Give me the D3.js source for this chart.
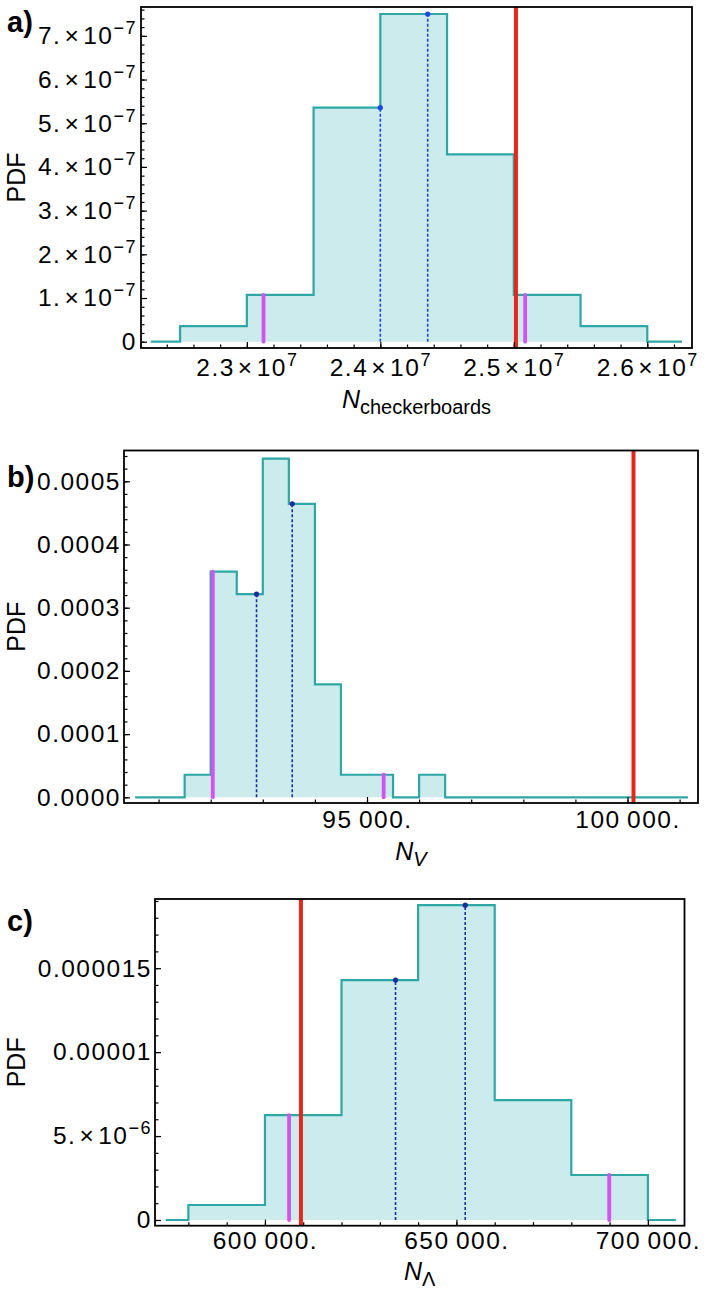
<!DOCTYPE html>
<html>
<head>
<meta charset="utf-8">
<script src="https://cdn.jsdelivr.net/npm/d3@7"></script>
<style>
body { margin: 0; background: #fff; }
svg text { font-family: "Liberation Sans", Arial, sans-serif; fill: #000; }
.tick text { font-size: 24.5px; letter-spacing: 1.5px; }
</style>
</head>
<body>
<div id="vis"></div>
<script>
// ---- panel a : N_checkerboards ----
var aEdges = [2.25e7, 2.30e7, 2.35e7, 2.40e7, 2.45e7, 2.50e7, 2.55e7, 2.60e7];
var aPdf = [0.357e-7, 1.071e-7, 5.357e-7, 7.5e-7, 4.286e-7, 1.071e-7, 0.357e-7];
var aSpan = [2.228e7, 2.626e7];
var aActual = 2.5016e7;
var aBand = [[2.3125e7, 1.071e-7], [2.5085e7, 1.071e-7]];
var aMid = [[2.40e7, 5.357e-7], [2.4355e7, 7.5e-7]];
var aXTicks = [2.3e7, 2.4e7, 2.5e7, 2.6e7];
var aXLabels = ["2.3×10^7", "2.4×10^7", "2.5×10^7", "2.6×10^7"];
var aYTicks = [0, 1e-7, 2e-7, 3e-7, 4e-7, 5e-7, 6e-7, 7e-7];
var aYLabels = ["0", "1.×10^−7", "2.×10^−7", "3.×10^−7", "4.×10^−7", "5.×10^−7", "6.×10^−7", "7.×10^−7"];

// ---- panel b : N_V ----
var bEdges = [91500, 92000, 92500, 93000, 93500, 94000, 94500, 95000, 95500, 96000, 96500];
var bPdf = [0.357e-4, 3.571e-4, 3.214e-4, 5.357e-4, 4.643e-4, 1.786e-4, 0.357e-4, 0.357e-4, 0, 0.357e-4];
var bSpan = [90550, 101160];
var bActual = 100115;
var bBand = [[92040, 3.571e-4], [95320, 0.357e-4]];
var bMid = [[92880, 3.214e-4], [93565, 4.643e-4]];
var bXTicks = [95000, 100000];
var bXLabels = ["95\u2009000.", "100\u2009000."];
var bYTicks = [0, 1e-4, 2e-4, 3e-4, 4e-4, 5e-4];
var bYLabels = ["0.0000", "0.0001", "0.0002", "0.0003", "0.0004", "0.0005"];

// ---- panel c : N_Lambda ----
var cEdges = [580000, 600000, 620000, 640000, 660000, 680000, 700000];
var cPdf = [0.893e-6, 6.25e-6, 14.29e-6, 18.75e-6, 7.143e-6, 2.679e-6];
var cSpan = [574100, 707300];
var cActual = 609400;
var cBand = [[606300, 6.25e-6], [689900, 2.679e-6]];
var cMid = [[634100, 14.29e-6], [652300, 18.75e-6]];
var cXTicks = [600000, 650000, 700000];
var cXLabels = ["600\u2009000.", "650\u2009000.", "700\u2009000."];
var cYTicks = [0, 5e-6, 1e-5, 1.5e-5];
var cYLabels = ["0", "5.×10^−6", "0.00001", "0.000015"];

var svg = d3.select("#vis").append("svg")
  .attr("width", 705)
  .attr("height", 1291);

var panels = [
  {tag: "a)", tagY: 32, box: [141, 692, 7, 348], xDom: [2.2207e7, 2.6335e7], yDom: [-0.144e-7, 7.66e-7],
   edges: aEdges, pdf: aPdf, span: aSpan, actual: aActual, band: aBand, mid: aMid, midColor: "#1f46e4",
   xTicks: aXTicks, xLabels: aXLabels, xMinor: d3.range(2.22e7, 2.634e7, 2e5),
   yTicks: aYTicks, yLabels: aYLabels, yMinor: d3.range(0, 7.7e-7, 0.2e-7),
   xPad: 11, yPad: 4, sub: "checkerboards", subItalic: false, nBase: 408},
  {tag: "b)", tagY: 487, box: [124, 698, 450.5, 803], xDom: [90336, 101353], yDom: [-0.09e-4, 5.487e-4],
   edges: bEdges, pdf: bPdf, span: bSpan, actual: bActual, band: bBand, mid: bMid, midColor: "#1a2f9c",
   xTicks: bXTicks, xLabels: bXLabels, xMinor: d3.range(91000, 101001, 1000),
   yTicks: bYTicks, yLabels: bYLabels, yMinor: d3.range(0, 5.5e-4, 0.2e-4),
   xPad: 8, yPad: 3, sub: "V", subItalic: true, nBase: 860},
  {tag: "c)", tagY: 931, box: [155, 684.5, 899, 1225.7], xDom: [571290, 709560], yDom: [-0.34e-6, 19.12e-6],
   edges: cEdges, pdf: cPdf, span: cSpan, actual: cActual, band: cBand, mid: cMid, midColor: "#1a2f9c",
   xTicks: cXTicks, xLabels: cXLabels, xMinor: d3.range(580000, 700001, 10000),
   yTicks: cYTicks, yLabels: cYLabels, yMinor: d3.range(0, 19.1e-6, 1e-6),
   xPad: 6, yPad: 3, sub: "\u039B", subItalic: false, nBase: 1280}
];

// turn "m×10^e" into tspans with a raised exponent
function sciText(sel) {
  sel.each(function() {
    var t = d3.select(this), s = t.text();
    if (s.indexOf("^") < 0) return;
    var parts = s.split("^"), base = parts[0].split("×");
    t.text(null);
    t.append("tspan").text(base[0]);
    t.append("tspan").attr("dx", 3).text("×");
    t.append("tspan").attr("dx", 3).text(base[1]);
    t.append("tspan").attr("dx", 0).attr("dy", -10).style("font-size", "18px").text(parts[1]);
  });
}

panels.forEach(function(p, k) {
  var x = d3.scaleLinear().domain(p.xDom).range([p.box[0], p.box[1]]);
  var y = d3.scaleLinear().domain(p.yDom).range([p.box[3], p.box[2]]);

  var g = svg.append("g");
  var clipId = "clip" + k;
  g.append("clipPath").attr("id", clipId).append("rect")
    .attr("x", p.box[0]).attr("y", p.box[2])
    .attr("width", p.box[1] - p.box[0]).attr("height", p.box[3] - p.box[2]);

  var plot = g.append("g").attr("clip-path", "url(#" + clipId + ")");

  var pts = [[p.span[0], 0]];
  p.pdf.forEach(function(v, i) { pts.push([p.edges[i], v]); });
  pts.push([p.edges[p.edges.length - 1], 0]);
  pts.push([p.span[1], 0]);

  plot.append("path")
    .datum(pts)
    .attr("fill", "#cbebec")
    .attr("d", d3.area().curve(d3.curveStepAfter)
      .x(function(d) { return x(d[0]); })
      .y0(y(0))
      .y1(function(d) { return y(d[1]); }));

  plot.append("path")
    .datum(pts)
    .attr("fill", "none")
    .attr("stroke", "#2ea7a5")
    .attr("stroke-width", 2.2)
    .attr("d", d3.line().curve(d3.curveStepAfter)
      .x(function(d) { return x(d[0]); })
      .y(function(d) { return y(d[1]); }));

  // median / mean markers
  plot.selectAll(".mid").data(p.mid).enter().append("line")
    .attr("x1", function(d) { return x(d[0]); })
    .attr("x2", function(d) { return x(d[0]); })
    .attr("y1", y(0))
    .attr("y2", function(d) { return y(d[1]); })
    .attr("stroke", p.midColor)
    .attr("stroke-width", 1.6)
    .attr("stroke-dasharray", "3,2");
  plot.selectAll(".dot").data(p.mid).enter().append("circle")
    .attr("cx", function(d) { return x(d[0]); })
    .attr("cy", function(d) { return y(d[1]); })
    .attr("r", 2.6)
    .attr("fill", p.midColor);

  // 95% band edges
  plot.selectAll(".band").data(p.band).enter().append("line")
    .attr("x1", function(d) { return x(d[0]); })
    .attr("x2", function(d) { return x(d[0]); })
    .attr("y1", y(0))
    .attr("y2", function(d) { return y(d[1]); })
    .attr("stroke", "#d452f2")
    .attr("stroke-width", 3.8)
    .attr("stroke-linecap", "round");

  // actual value
  plot.append("line")
    .attr("x1", x(p.actual)).attr("x2", x(p.actual))
    .attr("y1", p.box[2]).attr("y2", p.box[3])
    .attr("stroke", "#e5281b")
    .attr("stroke-width", 4);

  // axes, ticks pointing inward
  g.append("g")
    .attr("transform", "translate(0," + p.box[3] + ")")
    .call(d3.axisBottom(x).tickValues(p.xMinor).tickFormat("").tickSizeInner(-3.5).tickSizeOuter(0))
    .call(function(s) { s.select(".domain").remove(); });
  g.append("g")
    .attr("transform", "translate(" + p.box[0] + ",0)")
    .call(d3.axisLeft(y).tickValues(p.yMinor).tickFormat("").tickSizeInner(-3.5).tickSizeOuter(0))
    .call(function(s) { s.select(".domain").remove(); });

  g.append("g")
    .attr("transform", "translate(0," + p.box[3] + ")")
    .call(d3.axisBottom(x).tickValues(p.xTicks)
      .tickFormat(function(d, i) { return p.xLabels[i]; })
      .tickSizeInner(-6).tickSizeOuter(0).tickPadding(p.xPad))
    .call(function(s) { s.select(".domain").remove(); })
    .selectAll("text").call(sciText);

  g.append("g")
    .attr("transform", "translate(" + p.box[0] + ",0)")
    .call(d3.axisLeft(y).tickValues(p.yTicks)
      .tickFormat(function(d, i) { return p.yLabels[i]; })
      .tickSizeInner(-6).tickSizeOuter(0).tickPadding(p.yPad))
    .call(function(s) { s.select(".domain").remove(); })
    .selectAll("text").call(sciText);

  g.selectAll(".tick line").attr("stroke", "#000").attr("stroke-width", 1.2);

  // frame
  g.append("rect")
    .attr("x", p.box[0]).attr("y", p.box[2])
    .attr("width", p.box[1] - p.box[0]).attr("height", p.box[3] - p.box[2])
    .attr("fill", "none")
    .attr("stroke", "#000")
    .attr("stroke-width", 1.8);

  // axis titles
  var xt = g.append("text")
    .attr("x", (p.box[0] + p.box[1]) / 2)
    .attr("y", p.nBase)
    .attr("text-anchor", "middle")
    .style("font-size", "25px");
  xt.append("tspan").style("font-style", "italic").text("N");
  xt.append("tspan")
    .attr("dy", 6)
    .style("font-size", "20px")
    .style("font-style", p.subItalic ? "italic" : "normal")
    .text(p.sub);

  g.append("text")
    .attr("transform", "translate(25," + (p.box[2] + p.box[3]) / 2 + ") rotate(-90)")
    .attr("text-anchor", "middle")
    .style("font-size", "25px")
    .text("PDF");

  g.append("text")
    .attr("x", 7)
    .attr("y", p.tagY)
    .style("font-size", "29px")
    .style("font-weight", "bold")
    .text(p.tag);
});
</script>
</body>
</html>
